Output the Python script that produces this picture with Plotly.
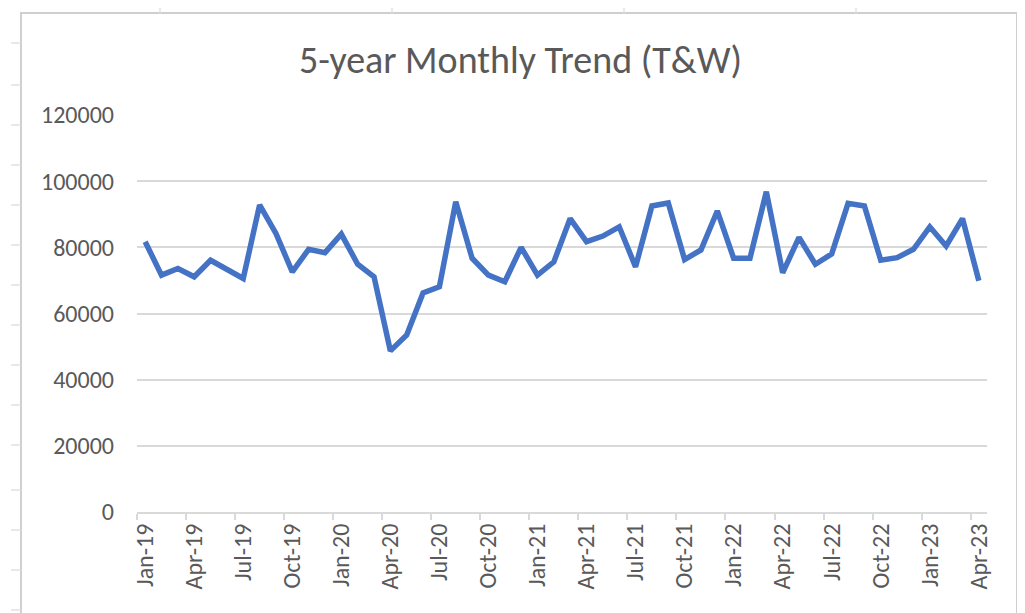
import plotly.graph_objects as go

months = ["Jan","Feb","Mar","Apr","May","Jun","Jul","Aug","Sep","Oct","Nov","Dec"]
categories = [f"{months[i % 12]}-{19 + i // 12}" for i in range(52)]

values = [
    81700, 71600, 73600, 71100, 76100, 73300, 70600, 92800, 84200, 72600, 79400, 78400,
    84000, 74900, 71100, 48700, 53500, 66200, 68100, 93800, 76700, 71600, 69600, 80000,
    71600, 75600, 88700, 81700, 83400, 86200, 74100, 92500, 93400, 76300, 79200, 91000,
    76700, 76700, 96800, 72300, 83000, 74900, 78000, 93300, 92500, 76100, 76900, 79400,
    86200, 80400, 88700, 69900,
]

tick_idx = list(range(0, 52, 3))
tick_labels = [categories[i] for i in tick_idx]
boundary_ticks = [i - 0.5 for i in range(0, 52, 3)]

grey_txt = "#595959"
font_family = "Carlito, Calibri, 'Open Sans', sans-serif"

fig = go.Figure()
fig.add_trace(go.Scatter(
    x=list(range(len(values))), y=values, mode="lines",
    line=dict(color="#4472C4", width=5.5, shape="linear"),
    hoverinfo="x+y", showlegend=False,
))

shapes = []
# Excel chart-area border
shapes.append(dict(type="rect", xref="paper", yref="paper",
                   x0=-0.1365, x1=1.0353, y0=-0.30, y1=1.257,
                   line=dict(color="#cfcfcf", width=2), fillcolor="rgba(0,0,0,0)", layer="above"))
# faint spreadsheet lines outside chart
for px in [160, 392, 624, 856]:
    xp = (px - 137) / 850
    shapes.append(dict(type="line", xref="paper", yref="paper",
                       x0=xp, x1=xp, y0=1.257, y1=1.280,
                       line=dict(color="#e0e0e0", width=1.5)))
for py in [43, 85, 125, 165, 205, 245, 285, 325, 365, 405, 445, 490, 530, 570, 610]:
    yp = (512 - py) / 397
    shapes.append(dict(type="line", xref="paper", yref="paper",
                       x0=-0.148, x1=-0.1365, y0=yp, y1=yp,
                       line=dict(color="#e0e0e0", width=1.5)))
    shapes.append(dict(type="line", xref="paper", yref="paper",
                       x0=1.0353, x1=1.045, y0=yp, y1=yp,
                       line=dict(color="#e0e0e0", width=1.5)))

fig.update_layout(
    width=1025, height=613,
    margin=dict(l=129, r=46, t=107, b=109),
    paper_bgcolor="white", plot_bgcolor="white",
    title=dict(text="5-year Monthly Trend (T&W)", x=0.5, xanchor="center",
               xref="container", y=0.915, yref="container", yanchor="middle",
               font=dict(family=font_family, size=38, color=grey_txt)),
    font=dict(family=font_family, color=grey_txt),
    shapes=shapes,
    xaxis=dict(
        range=[-0.5, 51.5], tickmode="array", tickvals=tick_idx, ticktext=tick_labels,
        tickangle=-90, ticks="", showgrid=False, zeroline=False,
        showline=True, linecolor="#d9d9d9", linewidth=2,
        tickfont=dict(size=24, color=grey_txt, family=font_family),
        minor=dict(tickmode="array", tickvals=boundary_ticks, ticks="outside",
                   ticklen=6, tickwidth=2, tickcolor="#d9d9d9", showgrid=False),
        fixedrange=True,
    ),
    yaxis=dict(
        range=[0, 120000], tickmode="array",
        tickvals=[0, 20000, 40000, 60000, 80000, 100000, 120000],
        ticktext=["0", "20000", "40000", "60000", "80000", "100000", "120000"],
        showgrid=True, gridcolor="#d9d9d9", gridwidth=2, zeroline=False,
        showline=False, ticks="", ticklabelstandoff=22,
        tickfont=dict(size=24, color=grey_txt, family=font_family),
        fixedrange=True,
    ),
)

fig.write_html("out.html")
